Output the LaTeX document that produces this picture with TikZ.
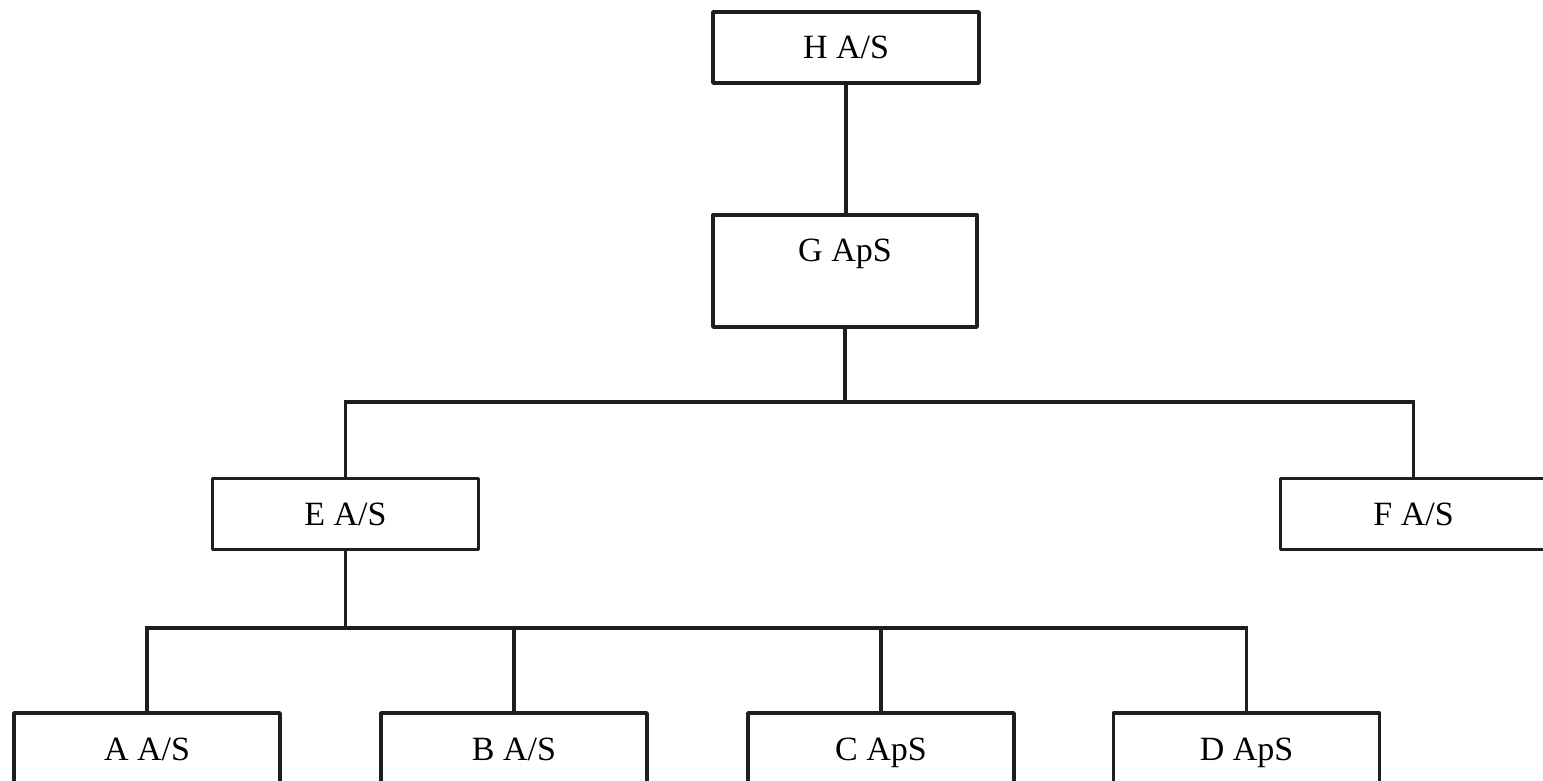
\documentclass[tikz,border=0pt]{standalone}
\usepackage{fontspec}
\setmainfont{Liberation Serif}
\definecolor{ink}{HTML}{1E1E1E}
\begin{document}
\begin{tikzpicture}[x=0.5pt,y=-0.5pt,
  box/.style={draw=ink,line width=1.9pt,line join=round,rectangle,inner sep=0pt,
    text height=11.5pt,text depth=0pt,
    minimum width=133pt,minimum height=35.5pt,font=\fontsize{17}{20}\selectfont,text=black},
  link/.style={draw=ink,line width=1.7pt}]
\useasboundingbox (0,0) rectangle (1543,781);
\clip (0,0) rectangle (1543,781);
\node[box] (H) at (846,47.5) {H A/S};
\node[box,anchor=north,text height=23.25pt,text depth=32.75pt,minimum height=56pt,minimum width=132pt] (G) at (845,213) {G ApS};
\node[box] (E) at (345.5,514) {E A/S};
\node[box] (F) at (1413.5,514) {F A/S};
\node[box] (A) at (147,748.5) {A A/S};
\node[box] (B) at (514,748.5) {B A/S};
\node[box] (C) at (881,748.5) {C ApS};
\node[box] (D) at (1246.5,748.5) {D ApS};
\coordinate (busG) at (845,402);
\coordinate (busE) at (345.5,628);
\draw[link] (H.south) -- (H.south |- G.north);
\draw[link] (G.south) -- (busG);
\draw[link] (E.north) |- (busG) -| (F.north);
\draw[link] (E.south) -- (busE);
\draw[link] (A.north) |- (busE) -| (D.north);
\draw[link] (B.north) |- (busE);
\draw[link] (C.north) |- (busE);
\end{tikzpicture}
\end{document}
